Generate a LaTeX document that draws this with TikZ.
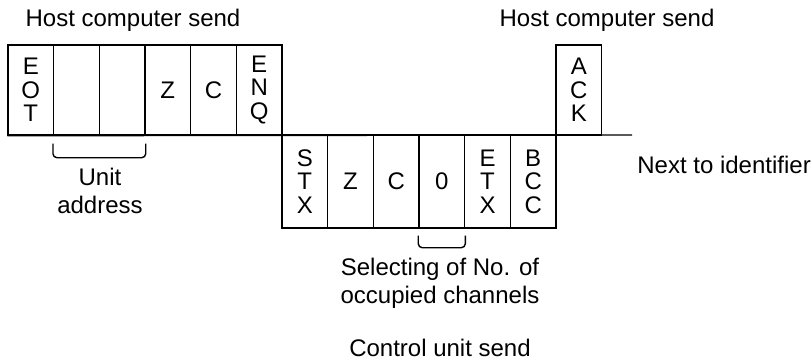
\documentclass[tikz,border=0pt]{standalone}
\usepackage{fontspec}
\setmainfont{Liberation Sans}
\begin{document}
\begin{tikzpicture}[x=1pt,y=-1pt,
  cell/.style={draw, line width=1.4pt, minimum width=45.67pt, inner sep=0pt, align=center,
    font=\fontsize{24pt}{23.5pt}\selectfont},
  topcell/.style={cell, minimum height=90pt},
  lowcell/.style={cell, minimum height=93pt},
  lbl/.style={font=\fontsize{24pt}{28pt}\selectfont, align=center, inner sep=0pt},
  brace/.style={line width=1.4pt, rounded corners=4pt}]
\useasboundingbox (0,0) rectangle (812,362);
% top row (host computer send)
\node[topcell] (eot) at (30.8,90) {E\\O\\T};
\node[topcell] (u1) at (76.5,90) {};
\node[topcell] (u2) at (122.2,90) {};
\node[topcell] (z1) at (167.8,90) {Z};
\node[topcell] (c1) at (213.5,90) {C};
\node[topcell] (enq) at (259.2,90) {E\\N\\Q};
% lower row (control unit send)
\node[lowcell] (stx) at (304.8,181.5) {S\\T\\X};
\node[lowcell] (z2) at (350.5,181.5) {Z};
\node[lowcell] (c2) at (396.2,181.5) {C};
\node[lowcell] (n0) at (441.8,181.5) {0};
\node[lowcell] (etx) at (487.5,181.5) {E\\T\\X};
\node[lowcell] (bcc) at (533.2,181.5) {B\\C\\C};
% ACK
\node[topcell] (ack) at (578.8,90) {A\\C\\K};
% base line
\coordinate (lend) at (632,135);
\draw[line width=1.4pt] (eot.south west) -- (lend);
% braces
\draw[brace] ([yshift=-8pt]u1.south west) -- ([yshift=-22pt]u1.south west) -- ([yshift=-22pt]u2.south east) -- ([yshift=-8pt]u2.south east);
\draw[brace] ([yshift=-7pt]n0.south west) -- ([yshift=-19pt]n0.south west) -- ([yshift=-19pt]n0.south east) -- ([yshift=-7pt]n0.south east);
% labels
\node[lbl] (host1) at (133,20) {Host computer send};
\node[lbl] (host2) at (607,20) {Host computer send};
\node[lbl, anchor=east] (next) at (811,165) {Next to identifier};
\node[lbl] (unit) at (100,191) {Unit\\address};
\node[lbl] (sel) at (440,283) {Selecting of No. of\\occupied channels};
\node[lbl] (ctrl) at (440,348) {Control unit send};
\end{tikzpicture}
\end{document}
